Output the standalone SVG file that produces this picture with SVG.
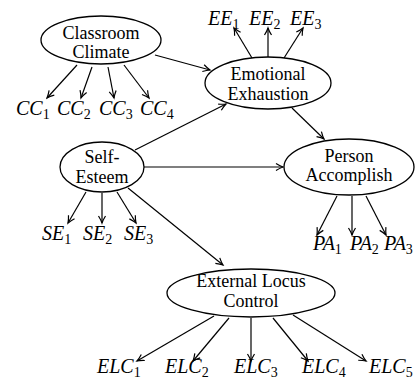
<svg xmlns="http://www.w3.org/2000/svg" width="416" height="387" viewBox="0 0 416 387">
<style>
text{font-family:"Liberation Serif","Times New Roman","DejaVu Serif",serif;fill:#000}
.n{font-size:18px;text-anchor:middle}
.m{font-size:20px;font-style:italic}
.s{font-size:14px;font-style:normal}
ellipse{fill:#fff;stroke:#000;stroke-width:1.3}
.c line{stroke:#000;stroke-width:1.2;marker-end:url(#a)}
</style>
<defs>
<marker id="a" markerWidth="10" markerHeight="10" refX="8" refY="5" orient="auto" markerUnits="userSpaceOnUse">
<path d="M1,1.5 Q5,4 8,5 Q5,6 1,8.5" fill="none" stroke="#000" stroke-width="1.2"/>
</marker>
</defs>
<g class="c" id="connectors">
<line x1="155" y1="55" x2="210" y2="70"/>
<line x1="77" y1="65" x2="47" y2="98"/>
<line x1="92" y1="67" x2="81" y2="98"/>
<line x1="108" y1="67" x2="114" y2="98"/>
<line x1="124" y1="65" x2="149" y2="98"/>
<line x1="252" y1="58" x2="234" y2="28"/>
<line x1="268" y1="57" x2="268" y2="28"/>
<line x1="284" y1="58" x2="303" y2="28"/>
<line x1="292" y1="108" x2="324" y2="139"/>
<line x1="135" y1="150" x2="226" y2="104"/>
<line x1="144" y1="167" x2="283" y2="167"/>
<line x1="128" y1="188" x2="223" y2="265"/>
<line x1="86" y1="192" x2="68" y2="223"/>
<line x1="102" y1="193" x2="102" y2="223"/>
<line x1="117" y1="192" x2="136" y2="223"/>
<line x1="337" y1="196" x2="317" y2="235"/>
<line x1="352" y1="196" x2="352" y2="235"/>
<line x1="366" y1="196" x2="386" y2="235"/>
<line x1="214" y1="316" x2="137" y2="361"/>
<line x1="229" y1="318" x2="193" y2="361"/>
<line x1="251" y1="318" x2="251" y2="361"/>
<line x1="273" y1="318" x2="308" y2="361"/>
<line x1="293" y1="315" x2="366" y2="361"/>
</g>
<g id="classroom">
<ellipse cx="101" cy="40" rx="60" ry="24"/>
<text class="n" x="101" y="39">Classroom</text>
<text class="n" x="101" y="58">Climate</text>
</g>
<g id="emotional">
<ellipse cx="268" cy="83" rx="63" ry="26"/>
<text class="n" x="268" y="80">Emotional</text>
<text class="n" x="268" y="100">Exhaustion</text>
</g>
<g id="selfesteem">
<ellipse cx="102" cy="167" rx="42" ry="25"/>
<text class="n" x="102" y="163">Self-</text>
<text class="n" x="102" y="183">Esteem</text>
</g>
<g id="person">
<ellipse cx="349" cy="167" rx="65" ry="28"/>
<text class="n" x="349" y="162">Person</text>
<text class="n" x="349" y="181">Accomplish</text>
</g>
<g id="elc">
<ellipse cx="251" cy="293" rx="84" ry="24"/>
<text class="n" x="251" y="287">External Locus</text>
<text class="n" x="251" y="307">Control</text>
</g>
<g id="indicators">
<text class="m" x="16" y="115">CC<tspan class="s" dy="4">1</tspan></text>
<text class="m" x="57" y="115">CC<tspan class="s" dy="4">2</tspan></text>
<text class="m" x="99" y="115">CC<tspan class="s" dy="4">3</tspan></text>
<text class="m" x="140" y="115">CC<tspan class="s" dy="4">4</tspan></text>
<text class="m" x="208" y="25">EE<tspan class="s" dy="4">1</tspan></text>
<text class="m" x="249" y="25">EE<tspan class="s" dy="4">2</tspan></text>
<text class="m" x="290" y="25">EE<tspan class="s" dy="4">3</tspan></text>
<text class="m" x="42" y="240">SE<tspan class="s" dy="4">1</tspan></text>
<text class="m" x="83" y="240">SE<tspan class="s" dy="4">2</tspan></text>
<text class="m" x="124" y="240">SE<tspan class="s" dy="4">3</tspan></text>
<text class="m" x="313" y="250">PA<tspan class="s" dy="4">1</tspan></text>
<text class="m" x="350" y="250">PA<tspan class="s" dy="4">2</tspan></text>
<text class="m" x="384" y="250">PA<tspan class="s" dy="4">3</tspan></text>
<text class="m" x="97" y="373">ELC<tspan class="s" dy="4">1</tspan></text>
<text class="m" x="165" y="373">ELC<tspan class="s" dy="4">2</tspan></text>
<text class="m" x="234" y="373">ELC<tspan class="s" dy="4">3</tspan></text>
<text class="m" x="302" y="373">ELC<tspan class="s" dy="4">4</tspan></text>
<text class="m" x="369" y="373">ELC<tspan class="s" dy="4">5</tspan></text>
</g>
</svg>
